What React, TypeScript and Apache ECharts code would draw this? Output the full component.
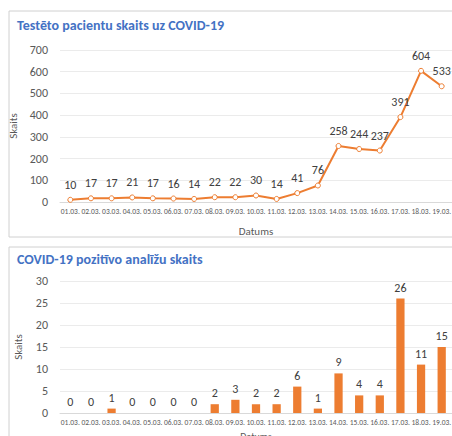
import React, { useEffect, useRef } from "react";
import * as echarts from "echarts";

const categories = ["01.03.", "02.03.", "03.03.", "04.03.", "05.03.", "06.03.", "07.03.", "08.03.", "09.03.", "10.03.", "11.03.", "12.03.", "13.03.", "14.03.", "15.03.", "16.03.", "17.03.", "18.03.", "19.03."];
const testedPatients = [10, 17, 17, 21, 17, 16, 14, 22, 22, 30, 14, 41, 76, 258, 244, 237, 391, 604, 533];
const positiveTests = [0, 0, 1, 0, 0, 0, 0, 2, 3, 2, 2, 6, 1, 9, 4, 4, 26, 11, 15];
const title1 = "Testēto pacientu skaits uz COVID-19";
const title2 = "COVID-19 pozitīvo analīžu skaits";

const FONT = "Calibri, Carlito, Lato, 'Open Sans', sans-serif";
const ORANGE = "#ED7D31";
const BLUE = "#4472C4";
const GRAY = "#595959";

export default function App() {
  const ref = useRef<HTMLDivElement>(null);
  useEffect(() => {
    const chart = echarts.init(ref.current!, null, { renderer: "svg" });
    const xAxisCommon = {
      type: "category" as const,
      data: categories,
      axisLine: { show: true, lineStyle: { color: "#D9D9D9" } },
      axisTick: { show: false },
      axisLabel: { interval: 0, fontSize: 7.5, color: GRAY, fontFamily: FONT, margin: 5 },
      name: "Datums",
      nameLocation: "middle" as const,
      nameTextStyle: { fontSize: 11, color: GRAY, fontFamily: FONT },
    };
    const yAxisCommon = {
      type: "value" as const,
      name: "Skaits",
      nameLocation: "middle" as const,
      nameGap: 36,
      nameTextStyle: { fontSize: 11, color: GRAY, fontFamily: FONT },
      axisLine: { show: false },
      axisTick: { show: false },
      axisLabel: { fontSize: 12, color: GRAY, fontFamily: FONT, margin: 12 },
      splitLine: { lineStyle: { color: "#EBEBEB" } },
    };
    chart.setOption({
      animation: false,
      graphic: [
        { type: "rect", shape: { x: 9, y: 11, width: 460, height: 226 }, style: { fill: "none", stroke: "#D0D0D0", lineWidth: 1 } },
        { type: "rect", shape: { x: 9, y: 247, width: 460, height: 220 }, style: { fill: "none", stroke: "#D0D0D0", lineWidth: 1 } },
        { type: "text", left: 17, top: 18, style: { text: title1, fontSize: 14, fontWeight: "bold", fill: BLUE, fontFamily: FONT } },
        { type: "text", left: 17, top: 252, style: { text: title2, fontSize: 14, fontWeight: "bold", fill: BLUE, fontFamily: FONT } },
      ],
      grid: [
        { left: 60, right: 0, top: 50, height: 152, outerBoundsMode: "none" },
        { left: 60, right: 0, top: 281, height: 132, outerBoundsMode: "none" },
      ],
      xAxis: [
        { ...xAxisCommon, gridIndex: 0, nameGap: 24 },
        { ...xAxisCommon, gridIndex: 1, nameGap: 18, nameTextStyle: { fontSize: 10, color: GRAY, fontFamily: FONT } },
      ],
      yAxis: [
        { ...yAxisCommon, gridIndex: 0, min: 0, max: 700, interval: 100 },
        { ...yAxisCommon, gridIndex: 1, min: 0, max: 30, interval: 5 },
      ],
      series: [
        {
          type: "line",
          xAxisIndex: 0,
          yAxisIndex: 0,
          data: testedPatients,
          lineStyle: { color: ORANGE, width: 2 },
          itemStyle: { color: "#fff", borderColor: ORANGE, borderWidth: 1 },
          symbol: "circle",
          symbolSize: 5,
          label: { show: true, position: "top", distance: 6, fontSize: 12, color: "#404040", fontFamily: FONT },
        },
        {
          type: "bar",
          xAxisIndex: 1,
          yAxisIndex: 1,
          data: positiveTests,
          barWidth: "40%",
          itemStyle: { color: ORANGE },
          label: { show: true, position: "top", distance: 5, fontSize: 12, color: "#404040", fontFamily: FONT },
        },
      ],
    });
    return () => chart.dispose();
  }, []);
  return <div ref={ref} style={{ position: "fixed", left: 0, top: 0, width: 452, height: 436, background: "#fff" }} />;
}
